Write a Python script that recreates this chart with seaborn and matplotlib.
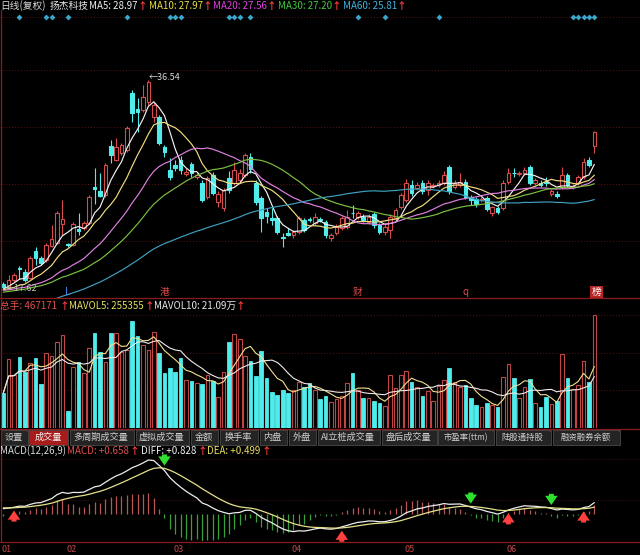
import numpy as np
import pandas as pd
import matplotlib
matplotlib.use("Agg")
import matplotlib.pyplot as plt
from matplotlib.patches import Rectangle
from matplotlib.lines import Line2D
import seaborn as sns

# ---------------- data ----------------
# estimated closes of the 59 sessions before the window (only feed the moving averages)
prior_close = [13.6, 13.4, 13.5, 13.3, 13.2, 13.4, 13.1, 13.0, 13.2, 13.1, 12.9,
               12.8, 13.0, 13.1, 13.3, 13.2, 13.5, 13.6, 13.8, 13.7, 14.0, 14.2, 14.1,
               14.4, 14.6, 14.5, 14.9, 15.2, 15.6, 16.0,
               16.4, 16.8, 16.6, 17.0, 16.9, 17.2, 17.0, 17.1, 16.8, 17.2,
               17.4, 17.2, 17.5, 17.3, 17.6, 17.4, 17.2, 17.5, 17.3, 17.1, 17.4, 17.6,
               17.3, 17.5, 17.2, 17.0, 17.3, 17.6, 17.9]

opens = [17.98, 17.70, 18.34, 19.40, 19.10, 18.50, 21.00, 20.35, 20.16, 21.40,
         21.70, 23.40, 21.60, 21.50, 23.00, 23.10, 23.50, 26.80, 26.40, 26.10,
         30.50, 29.30, 29.90, 30.20, 35.40, 33.90, 33.80, 34.50, 33.20, 33.20,
         30.40, 28.35, 28.80, 29.30, 28.00, 28.90, 27.70, 27.20, 25.90, 27.90,
         25.40, 24.90, 27.60, 27.20, 27.40, 27.90, 29.50, 27.20, 25.80, 24.50,
         24.00, 24.00, 22.25, 22.60, 22.40, 22.70, 23.80, 23.90, 23.50, 23.90,
         23.60, 22.20, 22.60, 23.10, 23.20, 24.45, 24.10, 24.10, 23.60, 24.30,
         23.30, 22.70, 22.90, 24.00, 25.00, 25.60, 27.00, 26.70, 27.20, 26.50,
         26.90, 27.00, 27.20, 28.60, 26.80, 27.00, 27.30, 25.90, 25.70, 25.60,
         25.80, 24.40, 24.90, 24.90, 27.30, 28.10, 28.00, 28.10, 28.60, 27.20,
         27.20, 27.25, 26.20, 26.20, 26.80, 27.90, 26.80, 27.20, 27.70, 29.30,
         30.50]
highs = [18.20, 18.80, 19.00, 19.60, 19.30, 20.50, 21.30, 20.50, 21.70, 23.30,
         24.60, 25.60, 21.70, 23.60, 24.40, 23.70, 26.10, 28.50, 28.10, 29.00,
         31.10, 31.30, 30.80, 32.40, 35.60, 34.90, 36.10, 36.54, 34.50, 33.40,
         30.60, 29.40, 29.30, 29.60, 28.50, 29.10, 28.20, 27.40, 27.80, 28.20,
         26.40, 26.70, 28.30, 29.10, 28.40, 29.90, 29.90, 27.40, 26.00, 24.90,
         24.90, 24.20, 22.60, 23.10, 22.90, 24.20, 24.00, 24.10, 24.40, 24.10,
         23.80, 22.60, 23.40, 24.20, 24.70, 25.20, 24.60, 24.30, 24.30, 24.50,
         23.50, 23.40, 24.30, 24.90, 26.30, 27.50, 27.40, 27.30, 27.40, 27.40,
         27.20, 27.40, 28.30, 28.80, 27.40, 28.10, 27.50, 26.10, 25.90, 25.90,
         26.00, 25.10, 25.10, 27.40, 28.50, 28.50, 28.30, 28.60, 28.80, 27.60,
         27.40, 27.70, 26.60, 26.40, 28.60, 28.10, 27.10, 27.90, 29.40, 29.50,
         31.90]
lows = [17.62, 17.65, 18.20, 18.40, 18.20, 18.40, 19.70, 19.70, 20.00, 21.30,
        21.60, 22.40, 21.30, 21.40, 22.40, 22.90, 23.40, 25.30, 25.90, 25.90,
        29.00, 29.20, 29.70, 30.00, 32.70, 31.80, 33.60, 34.30, 32.70, 30.60,
        29.50, 27.40, 28.30, 28.00, 27.80, 27.70, 27.50, 25.40, 25.70, 26.10,
        25.00, 24.60, 26.30, 27.00, 27.20, 27.70, 28.10, 25.20, 22.70, 23.50,
        23.30, 22.50, 21.30, 22.30, 22.20, 22.50, 22.70, 23.60, 23.30, 23.60,
        22.20, 21.90, 22.40, 22.90, 23.00, 24.00, 23.90, 23.60, 23.40, 23.10,
        22.50, 22.40, 22.20, 23.80, 24.80, 25.40, 26.00, 26.50, 26.20, 26.10,
        26.70, 26.80, 27.00, 26.20, 26.60, 26.80, 25.70, 25.20, 25.00, 25.40,
        24.60, 24.20, 24.30, 24.70, 27.10, 27.70, 27.80, 27.90, 27.00, 27.00,
        26.80, 26.90, 26.00, 25.80, 26.60, 26.80, 26.60, 27.00, 27.50, 28.60,
        29.90]
closes = [17.70, 18.34, 18.80, 19.30, 18.35, 20.35, 20.35, 19.90, 21.50, 22.10,
          24.40, 23.90, 21.50, 23.40, 22.80, 23.50, 25.90, 26.60, 26.00, 28.80,
          29.70, 30.40, 30.60, 32.20, 33.50, 33.60, 35.00, 36.40, 34.30, 30.80,
          30.00, 27.70, 28.50, 28.35, 28.20, 28.10, 27.90, 25.60, 27.60, 26.30,
          26.20, 26.50, 26.50, 28.35, 28.10, 29.70, 28.40, 25.40, 24.00, 24.20,
          23.80, 22.70, 22.15, 22.40, 22.70, 24.00, 22.90, 23.80, 24.10, 23.80,
          22.40, 22.40, 23.20, 24.00, 24.10, 24.40, 24.40, 23.80, 24.10, 23.30,
          22.70, 23.20, 24.10, 24.70, 26.10, 27.20, 26.30, 27.00, 26.40, 27.20,
          27.00, 27.20, 27.90, 26.40, 27.20, 27.30, 25.90, 25.60, 25.30, 25.70,
          24.80, 24.97, 24.50, 27.20, 28.10, 28.05, 28.10, 28.35, 27.20, 27.40,
          27.00, 27.20, 26.40, 26.00, 27.90, 27.00, 26.90, 27.70, 29.10, 28.80,
          31.80]
volumes = [144700, 285200, 219100, 293500, 231500, 268700, 289400, 181900, 310000, 297600,
           355500, 384500, 70300, 252200, 272800, 227400, 330700, 392700, 314200, 272800,
           392700, 392700, 314200, 322500, 442300, 380300, 343100, 322500, 396900, 310000,
           227400, 248000, 231500, 289400, 198400, 194300, 186000, 181900, 219100, 194300,
           128200, 231500, 355500, 388600, 367900, 297600, 277000, 215000, 318300, 206700,
           148800, 136400, 157100, 144700, 157100, 190200, 169500, 186000, 157100, 119900,
           132300, 107500, 119900, 132300, 186000, 227400, 157100, 124000, 124000, 111600,
           103400, 90900, 219100, 165400, 219100, 235600, 190200, 169500, 132300, 153000,
           111600, 173600, 198400, 248000, 190200, 169500, 177800, 124000, 95100, 86800,
           103400, 95100, 86800, 210800, 264600, 206700, 124000, 169500, 202600, 103400,
           86800, 128200, 99200, 111600, 305900, 206700, 161200, 177800, 277000, 190200,
           467171]

month_labels = ["01", "02", "03", "04", "05", "06"]
month_start_idx = [0, 12, 32, 54, 75, 94]
signal_idx = [3, 8, 9, 12, 23, 31, 32, 33, 42, 43, 44, 46, 66, 71, 81, 106, 107, 108, 109, 110]
event_idx = [12, 30, 66, 86, 110]
event_text = ["L", "港", "财", "q", "榜"]
tab_labels = ["设置", "成交量", "多周期成交量", "虚拟成交量", "金额", "换手率", "内盘", "外盘",
              "AI立桩成交量", "盘后成交量", "市盈率(ttm)", "陆股通持股", "融资融券余额"]

# ---------------- computations ----------------
n = len(closes)
npre = len(prior_close)
idx = np.arange(n)
full_close = pd.Series(prior_close + closes)
ma = {p: full_close.rolling(p).mean().iloc[npre:].to_numpy() for p in (5, 10, 20, 30, 60)}
vol = pd.Series(volumes)
mavol5 = vol.rolling(5, min_periods=1).mean().to_numpy()
mavol10 = vol.rolling(10, min_periods=1).mean().to_numpy()
ema12 = full_close.ewm(span=12, adjust=False).mean()
ema26 = full_close.ewm(span=26, adjust=False).mean()
diff_full = ema12 - ema26
dea_full = diff_full.ewm(span=9, adjust=False).mean()
diff = diff_full.iloc[npre:].to_numpy()
dea = dea_full.iloc[npre:].to_numpy()
macd = 2 * (diff - dea)

df = pd.DataFrame({"i": idx, "ma5": ma[5], "ma10": ma[10], "ma20": ma[20], "ma30": ma[30],
                   "ma60": ma[60], "mv5": mavol5, "mv10": mavol10, "diff": diff, "dea": dea})

# ---------------- style ----------------
sns.set_theme(style="dark", rc={"axes.facecolor": "black", "figure.facecolor": "black"})
plt.rcParams["font.family"] = ["Noto Sans CJK SC", "DejaVu Sans"]

W, H = 640, 555
fig = plt.figure(figsize=(6.4, 5.55), dpi=100, facecolor="black")


def rect(top, bottom, left=0, right=640):
    return [left / W, 1 - bottom / H, (right - left) / W, (bottom - top) / H]


UP = "#d84c4c"
UPV = "#c04646"
DOWN = "#50ecec"
GRID = "#5a1212"
SEP = "#8c1c1c"
XL = (-0.61, 118.5)

ax_p = fig.add_axes(rect(13, 298))
ax_v = fig.add_axes(rect(298, 428))
ax_m = fig.add_axes(rect(445, 541))
for ax in (ax_p, ax_v, ax_m):
    ax.set_facecolor("black")
    ax.set_xlim(*XL)
    ax.set_xticks([])
    ax.set_yticks([])
    for s in ax.spines.values():
        s.set_visible(False)

# ---------------- price panel ----------------
PY = (16.70, 42.64)
ax_p.set_ylim(*PY)
for f in (0.2, 0.4, 0.6, 0.8, 0.985):
    ax_p.axhline(PY[0] + f * (PY[1] - PY[0]), color=GRID, lw=0.7, ls=(0, (1, 2)), zorder=0)

o = np.array(opens); c = np.array(closes); hi = np.array(highs); lo = np.array(lows)
up = c >= o
btop = np.maximum(o, c); bbot = np.minimum(o, c)
bh = np.maximum(btop - bbot, 0.06)
for mask, col, fc in ((up, UP, "black"), (~up, DOWN, DOWN)):
    ax_p.vlines(idx[mask], btop[mask], hi[mask], color=col, lw=0.8, zorder=2)
    ax_p.vlines(idx[mask], lo[mask], bbot[mask], color=col, lw=0.8, zorder=2)
    ax_p.bar(idx[mask], bh[mask], bottom=bbot[mask], width=0.68, facecolor=fc,
             edgecolor=col, linewidth=0.8, zorder=3)

ma_colors = {"ma5": "#f2f2f2", "ma10": "#f0dc80", "ma20": "#e080e0", "ma30": "#7cc040", "ma60": "#40a0c0"}
for k, col in ma_colors.items():
    sns.lineplot(data=df, x="i", y=k, ax=ax_p, color=col, linewidth=0.85, legend=False, zorder=4)
ax_p.set_xlabel(""); ax_p.set_ylabel("")
ax_p.set_xlim(*XL); ax_p.set_ylim(*PY)

# max / min labels
imax = int(np.argmax(hi)); imin = int(np.argmin(lo))
ax_p.text(imax + 0.1, hi[imax] + 0.25, "←" + f"{hi[imax]:.2f}", color="#d8d8d8", fontsize=6.5,
          va="center", ha="left", zorder=6)
ax_p.text(imin + 0.4, lo[imin] - 0.1, "←" + f"{lo[imin]:.2f}", color="#b8c8a8", fontsize=6.5,
          va="center", ha="left", zorder=6)

# signal diamonds
tr_p = ax_p.get_xaxis_transform()
ax_p.scatter(signal_idx, [0.986] * len(signal_idx), marker="D", s=9, color="#3aa6cc",
             transform=tr_p, zorder=5, linewidths=0)

# event labels
for i, t in zip(event_idx, event_text):
    if t == "L":
        ax_p.text(i, 0.022, t, transform=tr_p, color="#4a8cff", fontsize=7, ha="center", va="center")
    elif t == "榜":
        ax_p.text(i + 0.4, 0.022, t, transform=tr_p, color="white", fontsize=7, ha="center", va="center",
                  bbox=dict(boxstyle="square,pad=0.12", fc="#b82424", ec="none"))
    else:
        ax_p.text(i, 0.022, t, transform=tr_p, color="#e04848", fontsize=7, ha="center", va="center")

# ---------------- volume panel ----------------
vmax = max(volumes)
ax_v.set_ylim(0, vmax * 130 / 113)
for f in (1 / 3, 2 / 3, 1.0):
    ax_v.axhline(vmax * f, color=GRID, lw=0.7, ls=(0, (1, 2)), zorder=0)
v = np.array(volumes)
ax_v.bar(idx[up], v[up], width=0.68, facecolor="black", edgecolor=UPV, linewidth=0.8, zorder=2)
ax_v.bar(idx[~up], v[~up], width=0.68, facecolor=DOWN, edgecolor=DOWN, linewidth=0.6, zorder=2)
sns.lineplot(data=df, x="i", y="mv5", ax=ax_v, color="#f0e090", linewidth=0.8, legend=False, zorder=4)
sns.lineplot(data=df, x="i", y="mv10", ax=ax_v, color="#f0e8e8", linewidth=0.8, legend=False, zorder=4)
ax_v.set_xlabel(""); ax_v.set_ylabel("")
ax_v.set_xlim(*XL)

# ---------------- MACD panel ----------------
zero_frac = (541 - 514) / 96.0
peak_frac = (541 - 460) / 96.0
S = diff.max() / (peak_frac - zero_frac)
ax_m.set_ylim(-zero_frac * S, (1 - zero_frac) * S)
for px in (459, 500):
    ax_m.axhline((1 - (px - 445) / 96.0 - zero_frac) * S, color=GRID, lw=0.6, ls=(0, (1, 2)), zorder=0)
hist_col = np.where(macd >= 0, "#b85656", "#38a038")
ax_m.vlines(idx, 0, macd, colors=hist_col, lw=0.9, zorder=2)
sns.lineplot(data=df, x="i", y="diff", ax=ax_m, color="#ececec", linewidth=0.9, legend=False, zorder=4)
sns.lineplot(data=df, x="i", y="dea", ax=ax_m, color="#e6e08a", linewidth=0.9, legend=False, zorder=4)
ax_m.set_xlabel(""); ax_m.set_ylabel("")
ax_m.set_xlim(*XL)

sgn = np.sign(diff - dea)
astyle = "simple,head_length=0.55,head_width=0.75,tail_width=0.3"
for i in range(1, n):
    if sgn[i] > 0 and sgn[i - 1] <= 0:
        ax_m.annotate("", xy=(i, min(diff[i], dea[i])), xytext=(0, -12), textcoords="offset points",
                      xycoords="data", arrowprops=dict(arrowstyle=astyle, fc="#ff4040", ec="none"),
                      annotation_clip=False, zorder=6)
    elif sgn[i] < 0 and sgn[i - 1] >= 0:
        ax_m.annotate("", xy=(i, max(diff[i], dea[i])), xytext=(0, 12), textcoords="offset points",
                      xycoords="data", arrowprops=dict(arrowstyle=astyle, fc="#30e030", ec="none"),
                      annotation_clip=False, zorder=6)

# month labels
tr_m = ax_m.get_xaxis_transform()
for i, lab in zip(month_start_idx, month_labels):
    ax_m.text(i - 0.3, -0.09, lab, transform=tr_m, color="#c04848", fontsize=6.5, ha="left", va="center",
              clip_on=False)

# ---------------- frame lines ----------------
def hline(px, col=SEP, lw=0.9, x0=0, x1=640):
    fig.add_artist(Line2D([x0 / W, x1 / W], [1 - px / H, 1 - px / H], color=col, lw=lw))


def vline(px, y0, y1, col=SEP, lw=0.9):
    fig.add_artist(Line2D([px / W, px / W], [1 - y0 / H, 1 - y1 / H], color=col, lw=lw))


hline(298.5)
hline(428.5)
hline(541.5)
vline(1, 10, 541)

# ---------------- header texts ----------------
def ftxt(x, y, s, col, fs=7, **kw):
    fig.text(x / W, 1 - y / H, s, color=col, fontsize=fs, ha="left", va="center", **kw)


ARW = "#ff3a3a"
ftxt(0, 6, "日线(复权)", "#d8d8d8")
ftxt(50, 6, "扬杰科技", "#e8e8e8")
ftxt(89, 6, "MA5: 28.97", "#f0f0f0")
ftxt(137, 6, "↑", ARW, weight="bold")
ftxt(149, 6, "MA10: 27.97", "#e8e040")
ftxt(202, 6, "↑", ARW, weight="bold")
ftxt(213, 6, "MA20: 27.56", "#e040e0")
ftxt(266, 6, "↑", ARW, weight="bold")
ftxt(278, 6, "MA30: 27.20", "#40c840")
ftxt(331, 6, "↑", ARW, weight="bold")
ftxt(343, 6, "MA60: 25.81", "#40b4e0")
ftxt(396, 6, "↑", ARW, weight="bold")

ftxt(0, 306, "总手: 467171", "#e05050")
ftxt(59, 306, "↑", ARW, weight="bold")
ftxt(69, 306, "MAVOL5: 255355", "#e8e060")
ftxt(144, 306, "↑", ARW, weight="bold")
ftxt(154, 306, "MAVOL10: 21.09万", "#e8e8e8")
ftxt(235, 306, "↑", ARW, weight="bold")

ftxt(0, 451, "MACD(12,26,9)", "#d8d8d8")
ftxt(67, 451, "MACD: +0.658", "#e05050")
ftxt(129, 451, "↑", ARW, weight="bold")
ftxt(141, 451, "DIFF: +0.828", "#f0f0f0")
ftxt(197, 451, "↑", ARW, weight="bold")
ftxt(207, 451, "DEA: +0.499", "#e8e060")
ftxt(261, 451, "↑", ARW, weight="bold")

# ---------------- tab row ----------------
tab_edges = [0, 29, 69, 135, 190, 219, 259, 288, 317, 381, 438, 495, 552, 621]
dot_tabs = {0, 10, 11, 12}
for k, lab in enumerate(tab_labels):
    x0, x1 = tab_edges[k], tab_edges[k + 1]
    fc = "#a81c1c" if k == 1 else "#242424"
    fig.add_artist(Rectangle((x0 / W + 0.5 / W, 1 - 445 / H), (x1 - x0 - 1.5) / W, 15.5 / H,
                             transform=fig.transFigure, fc=fc, ec="#4a4a4a", lw=0.6))
    fs = 6.0 if k in (10, 11, 12) else 6.6
    fig.text((x0 + x1) / 2 / W - 1 / W, 1 - 437.5 / H, lab, color="#f2f2f2" if k == 1 else "#cfcfcf",
             fontsize=fs, ha="center", va="center")
    if k in dot_tabs:
        fig.text((x1 - 2.5) / W, 1 - 432 / H, "•", color="#e04040", fontsize=3.0, ha="center", va="center")

fig.savefig("out.png", dpi=100, facecolor="black")
